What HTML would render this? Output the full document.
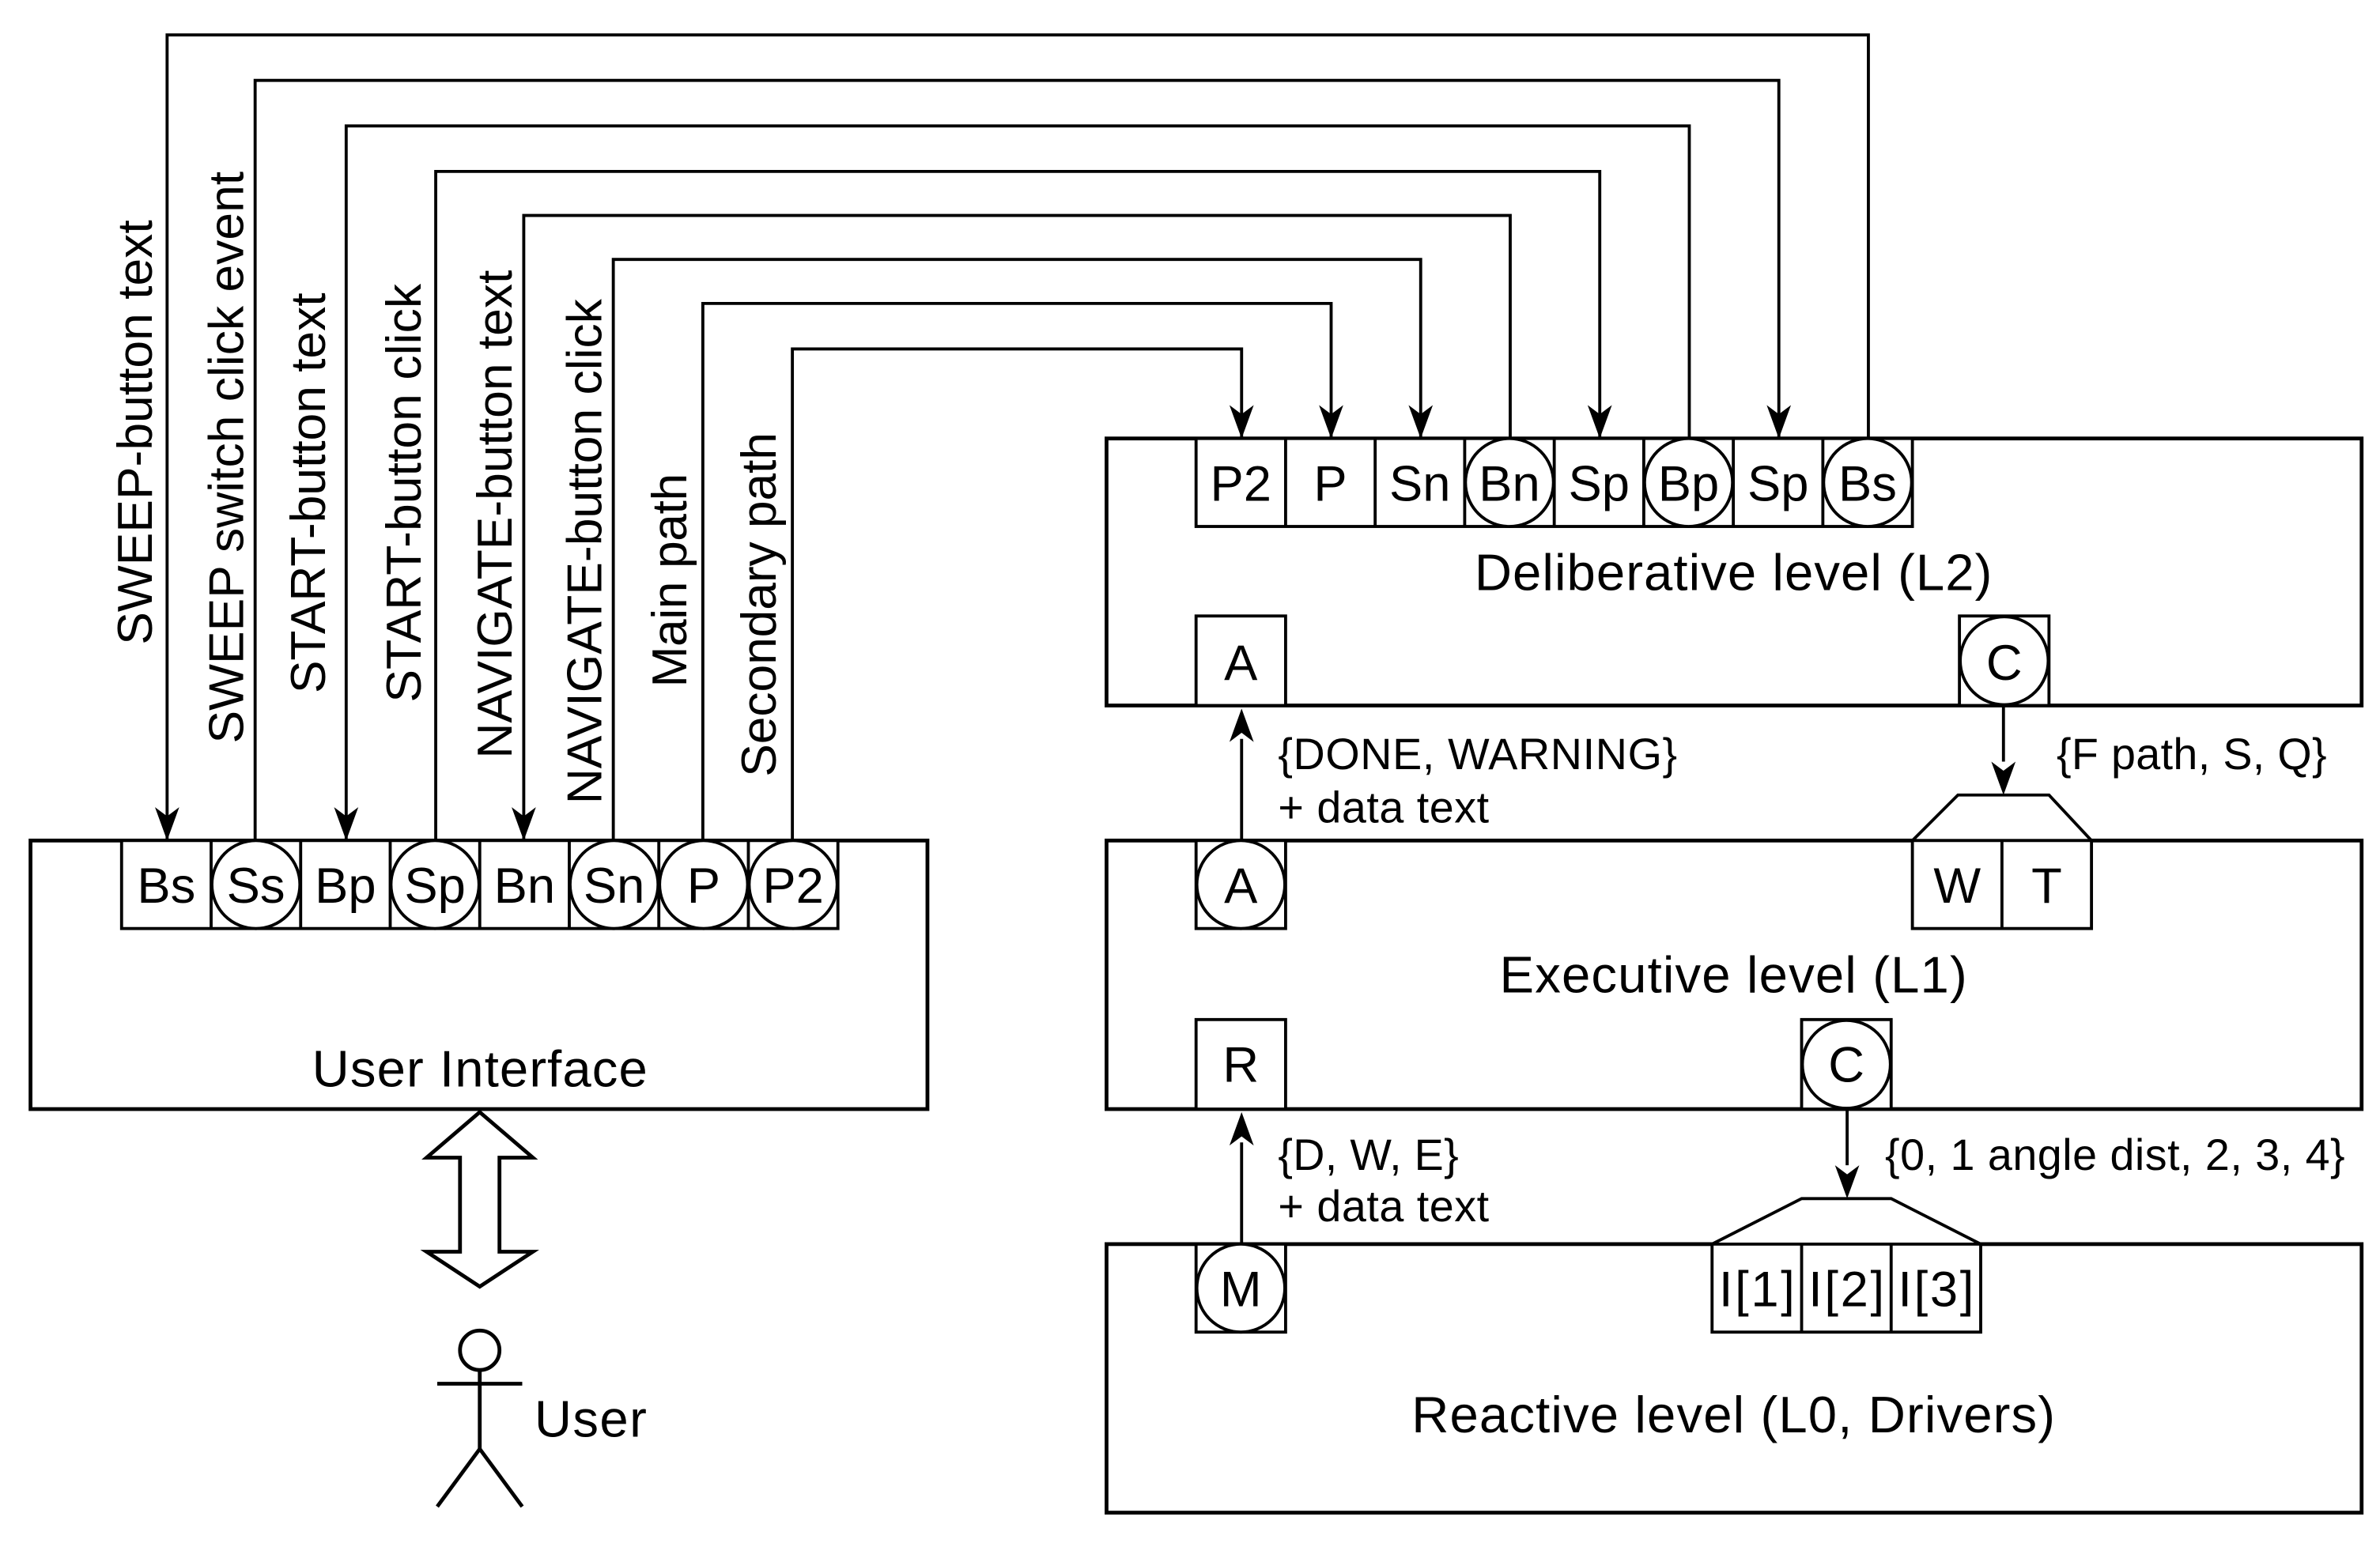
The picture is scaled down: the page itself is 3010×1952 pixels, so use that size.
<!DOCTYPE html>
<html><head><meta charset="utf-8"><style>html,body{margin:0;padding:0;background:#fff}svg{display:block}</style></head>
<body>
<svg width="3010" height="1952" viewBox="0 0 1568 1017" xmlns="http://www.w3.org/2000/svg" font-family="Liberation Sans, Arial, sans-serif" font-size="29">
<rect width="1568" height="1017" fill="#fff"/>
<g fill="none" stroke="#000" stroke-width="2">
<polyline points="1231,289 1231,23 110,23 110,554" />
<polyline points="168,554 168,53 1172,53 1172,289" />
<polyline points="1113,289 1113,83 228,83 228,554" />
<polyline points="287,554 287,113 1054,113 1054,289" />
<polyline points="995,289 995,142 345,142 345,554" />
<polyline points="404,554 404,171 936,171 936,289" />
<polyline points="463,554 463,200 877,200 877,289" />
<polyline points="522,554 522,230 818,230 818,289" />
</g>
<g fill="#000">
<path d="M102,532 L110,554 L118,532 L110,538 Z"/>
<path d="M220,532 L228,554 L236,532 L228,538 Z"/>
<path d="M337,532 L345,554 L353,532 L345,538 Z"/>
<path d="M810,267 L818,289 L826,267 L818,273 Z"/>
<path d="M869,267 L877,289 L885,267 L877,273 Z"/>
<path d="M928,267 L936,289 L944,267 L936,273 Z"/>
<path d="M1046,267 L1054,289 L1062,267 L1054,273 Z"/>
<path d="M1164,267 L1172,289 L1180,267 L1172,273 Z"/>
</g>
<g font-size="32.5">
<text transform="translate(100,425) rotate(-90)" textLength="280">SWEEP-button text</text>
<text transform="translate(160,490) rotate(-90)" textLength="377">SWEEP switch click event</text>
<text transform="translate(214,457) rotate(-90)" textLength="264">START-button text</text>
<text transform="translate(277,463) rotate(-90)" textLength="276">START-button click</text>
<text transform="translate(337,500) rotate(-90)" textLength="322">NAVIGATE-button text</text>
<text transform="translate(396,530) rotate(-90)" textLength="333">NAVIGATE-button click</text>
<text transform="translate(452,453) rotate(-90)" textLength="141">Main path</text>
<text transform="translate(511,512) rotate(-90)" textLength="227">Secondary path</text>
</g>
<g fill="#fff" stroke="#000" stroke-width="2.5">
<rect x="20" y="554" width="591" height="177"/>
<rect x="729" y="289" width="827" height="176"/>
<rect x="729" y="554" width="827" height="177"/>
<rect x="729" y="820" width="827" height="177"/>
</g>
<g fill="#fff" stroke="#000" stroke-width="2">
<rect x="80" y="554" width="472" height="58"/>
<line x1="139" y1="554" x2="139" y2="612"/><line x1="198" y1="554" x2="198" y2="612"/>
<line x1="257" y1="554" x2="257" y2="612"/><line x1="316" y1="554" x2="316" y2="612"/>
<line x1="375" y1="554" x2="375" y2="612"/><line x1="434" y1="554" x2="434" y2="612"/>
<line x1="493" y1="554" x2="493" y2="612"/>
<ellipse cx="168.5" cy="583" rx="29" ry="29"/><ellipse cx="286.5" cy="583" rx="29" ry="29"/>
<ellipse cx="404.5" cy="583" rx="29" ry="29"/><ellipse cx="463.5" cy="583" rx="29" ry="29"/>
<ellipse cx="522.5" cy="583" rx="29" ry="29"/>
<rect x="788" y="289" width="472" height="58"/>
<line x1="847" y1="289" x2="847" y2="347"/><line x1="906" y1="289" x2="906" y2="347"/>
<line x1="965" y1="289" x2="965" y2="347"/><line x1="1024" y1="289" x2="1024" y2="347"/>
<line x1="1083" y1="289" x2="1083" y2="347"/><line x1="1142" y1="289" x2="1142" y2="347"/>
<line x1="1201" y1="289" x2="1201" y2="347"/>
<ellipse cx="994.5" cy="318" rx="29" ry="29"/><ellipse cx="1112.5" cy="318" rx="29" ry="29"/>
<ellipse cx="1230.5" cy="318" rx="29" ry="29"/>
<rect x="788" y="406" width="59" height="59"/>
<rect x="1291" y="406" width="59" height="59"/><ellipse cx="1320.5" cy="435.5" rx="29" ry="29"/>
<rect x="788" y="554" width="59" height="58"/><ellipse cx="817.5" cy="583" rx="29" ry="29"/>
<polygon points="1260,554 1290,524 1350,524 1378,554"/>
<rect x="1260" y="554" width="118" height="58"/><line x1="1319" y1="554" x2="1319" y2="612"/>
<rect x="788" y="672" width="59" height="59"/>
<rect x="1187" y="672" width="59" height="59"/><ellipse cx="1216.5" cy="701.5" rx="29" ry="29"/>
<rect x="788" y="820" width="59" height="58"/><ellipse cx="817.5" cy="849" rx="29" ry="29"/>
<polygon points="1128,820 1187,790 1246,790 1305,820"/>
<rect x="1128" y="820" width="177" height="58"/>
<line x1="1187" y1="820" x2="1187" y2="878"/><line x1="1246" y1="820" x2="1246" y2="878"/>
</g>
<g stroke="#000" stroke-width="2" fill="none">
<line x1="818" y1="554" x2="818" y2="487"/>
<line x1="1320" y1="465" x2="1320" y2="502"/>
<line x1="818" y1="820" x2="818" y2="753"/>
<line x1="1217" y1="731" x2="1217" y2="768"/>
</g>
<g fill="#000">
<path d="M810,489 L818,467 L826,489 L818,483 Z"/>
<path d="M1312,502 L1320,524 L1328,502 L1320,508 Z"/>
<path d="M810,755 L818,733 L826,755 L818,749 Z"/>
<path d="M1209,768 L1217,790 L1225,768 L1217,774 Z"/>
</g>
<g text-anchor="middle" font-size="33">
<text x="109.5" y="595">Bs</text><text x="168.5" y="595">Ss</text><text x="227.5" y="595">Bp</text>
<text x="286.5" y="595">Sp</text><text x="345.5" y="595">Bn</text><text x="404.5" y="595">Sn</text>
<text x="463.5" y="595">P</text><text x="522.5" y="595">P2</text>
<text x="817.5" y="330">P2</text><text x="876.5" y="330">P</text><text x="935.5" y="330">Sn</text>
<text x="994.5" y="330">Bn</text><text x="1053.5" y="330">Sp</text><text x="1112.5" y="330">Bp</text>
<text x="1171.5" y="330">Sp</text><text x="1230.5" y="330">Bs</text>
<text x="817.5" y="448">A</text><text x="1320.5" y="448">C</text>
<text x="817.5" y="595">A</text><text x="1289.5" y="595">W</text><text x="1348.5" y="595">T</text>
<text x="817.5" y="713">R</text><text x="1216.5" y="713">C</text>
<text x="817.5" y="861">M</text><text x="1157.5" y="861" textLength="50">I[1]</text><text x="1216.5" y="861" textLength="50">I[2]</text><text x="1275.5" y="861" textLength="50">I[3]</text>
</g>
<g text-anchor="middle" font-size="34">
<text x="316" y="716" textLength="221">User Interface</text>
<text x="1142" y="389" textLength="341">Deliberative level (L2)</text>
<text x="1142" y="654" textLength="308">Executive level (L1)</text>
<text x="1142" y="944" textLength="424">Reactive level (L0, Drivers)</text>
</g>
<g font-size="29">
<text x="842" y="507" textLength="263">{DONE, WARNING}</text>
<text x="842" y="542" textLength="139">+ data text</text>
<text x="1355" y="507" textLength="178">{F path, S, Q}</text>
<text x="842" y="771" textLength="119">{D, W, E}</text>
<text x="842" y="805" textLength="139">+ data text</text>
<text x="1242" y="771" textLength="303">{0, 1 angle dist, 2, 3, 4}</text>
</g>
<polygon points="316,733 351,763 329,763 329,825 351,825 316,848 281,825 303,825 303,763 281,763" fill="#fff" stroke="#000" stroke-width="2.5"/>
<g fill="none" stroke="#000" stroke-width="2.5">
<circle cx="316" cy="890" r="13"/>
<line x1="316" y1="903" x2="316" y2="955"/>
<line x1="288" y1="912" x2="344" y2="912"/>
<line x1="316" y1="955" x2="288" y2="993"/>
<line x1="316" y1="955" x2="344" y2="993"/>
</g>
<text x="352" y="947" font-size="34" textLength="74">User</text>
</svg>
</body></html>
